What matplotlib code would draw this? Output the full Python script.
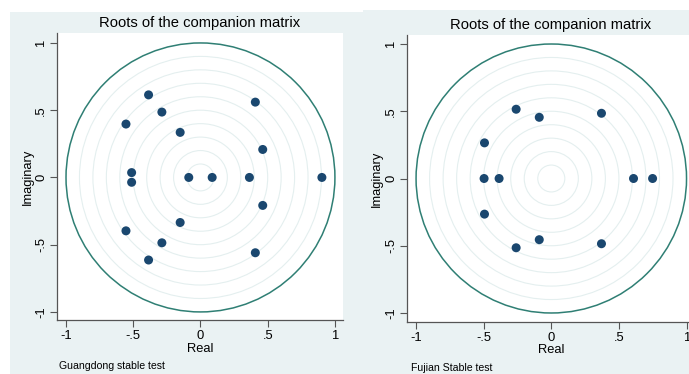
import matplotlib
matplotlib.use("Agg")
import matplotlib.pyplot as plt
from matplotlib.patches import Circle, Rectangle

plt.rcParams['font.family'] = ['Liberation Sans', 'DejaVu Sans']

# ---- data ----
gd_real = [-0.386, -0.386, 0.408, 0.408, -0.287, -0.287, -0.554, -0.554,
           -0.151, -0.151, 0.463, 0.463, -0.512, -0.512,
           -0.087, 0.087, 0.364, 0.903]
gd_imag = [0.614, -0.614, 0.560, -0.560, 0.486, -0.486, 0.397, -0.397,
           0.335, -0.335, 0.208, -0.208, 0.036, -0.036,
           0.0, 0.0, 0.0, 0.0]
fj_real = [-0.260, -0.260, -0.089, -0.089, 0.371, 0.371, -0.494, -0.494,
           -0.497, -0.386, 0.608, 0.749]
fj_imag = [0.515, -0.515, 0.455, -0.455, 0.485, -0.485, 0.265, -0.265,
           0.0, 0.0, 0.0, 0.0]
grid_radii = [0.1, 0.2, 0.3, 0.4, 0.5, 0.6, 0.7, 0.8, 0.9]
tick_vals = [-1, -0.5, 0, 0.5, 1]
tick_labels = ["-1", "-.5", "0", ".5", "1"]
title = "Roots of the companion matrix"
notes = ["Guangdong stable test", "Fujian Stable test"]

W, H = 689, 374
BG = "#eaf2f3"
NAVY = "#1a476f"
TEAL = "#2f7f74"
GRID = "#e4efef"

fig = plt.figure(figsize=(W / 100, H / 100), dpi=100)
fig.patch.set_facecolor("white")


def fx(px):
    return px / W


def fy(py):
    return 1 - py / H


# panel backgrounds
fig.patches.append(Rectangle((fx(10), 0), fx(363) - fx(10), fy(12), transform=fig.transFigure,
                             facecolor=BG, edgecolor="none", zorder=-5))
fig.patches.append(Rectangle((fx(363), 0), fx(689) - fx(363), fy(10), transform=fig.transFigure,
                             facecolor=BG, edgecolor="none", zorder=-5))

panels = [
    dict(x0=57, x1=343, top=33, bot=320, xlim=(-1.067, 1.06), ylim=(-1.06, 1.074),
         re=gd_real, im=gd_imag, note=notes[0], title_y=23, label_x=28, real_y=349,
         note_x=59, note_y=366, cx=200),
    dict(x0=407, x1=696, top=35, bot=322, xlim=(-1.067, 1.07), ylim=(-1.067, 1.067),
         re=fj_real, im=fj_imag, note=notes[1], title_y=25, label_x=377, real_y=350,
         note_x=411, note_y=368, cx=551),
]

for p in panels:
    ax = fig.add_axes([fx(p["x0"]), fy(p["bot"]), fx(p["x1"]) - fx(p["x0"]),
                       fy(p["top"]) - fy(p["bot"])])
    ax.set_zorder(2)
    ax.set_facecolor("white")
    ax.set_xlim(*p["xlim"])
    ax.set_ylim(*p["ylim"])
    for r in grid_radii:
        ax.add_patch(Circle((0, 0), r, fill=False, edgecolor=GRID, lw=0.8, zorder=1))
    ax.add_patch(Circle((0, 0), 1.0, fill=False, edgecolor=TEAL, lw=1.1, zorder=2))
    ax.scatter(p["re"], p["im"], s=42, color=NAVY, edgecolors="none", zorder=3)
    for s in ("top", "right"):
        ax.spines[s].set_visible(False)
    for s in ("left", "bottom"):
        ax.spines[s].set_color("#555555")
        ax.spines[s].set_linewidth(0.9)
    ax.set_xticks(tick_vals)
    ax.set_xticklabels(tick_labels, fontsize=9.4)
    ax.set_yticks(tick_vals)
    ax.set_yticklabels(tick_labels, fontsize=9.4, rotation=90, va="center")
    ax.tick_params(direction="out", length=5, width=0.8, color="#555555", pad=2)
    fig.text(fx(p["cx"]), fy(p["title_y"]), title, ha="center", va="center", fontsize=10.6)
    fig.text(fx(p["cx"]), fy(p["real_y"]), "Real", ha="center", va="center", fontsize=9.3)
    fig.text(fx(p["label_x"]), fy((p["top"] + p["bot"]) / 2), "Imaginary", ha="center",
             va="center", rotation=90, fontsize=9.3)
    fig.text(fx(p["note_x"]), fy(p["note_y"]), p["note"], ha="left", va="center", fontsize=7.6)

fig.savefig("out.png", dpi=100, facecolor=fig.get_facecolor())
